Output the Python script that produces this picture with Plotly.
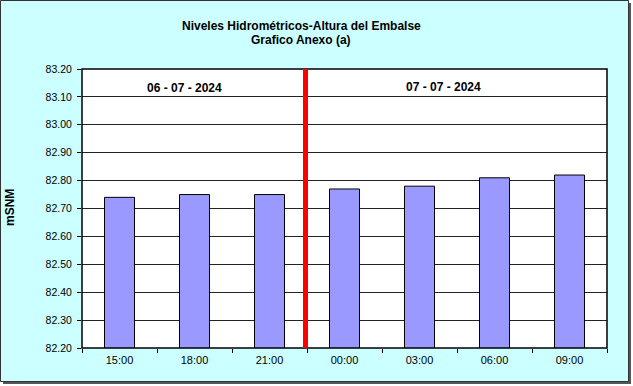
import plotly.graph_objects as go

categories = ["15:00", "18:00", "21:00", "00:00", "03:00", "06:00", "09:00"]
values = [82.74, 82.75, 82.75, 82.77, 82.78, 82.81, 82.82]
y_ticks = [82.2 + 0.1 * i for i in range(11)]
date_labels = ["06 - 07 - 2024", "07 - 07 - 2024"]

W, H = 633, 386
L, R, T, B = 82, 607, 69, 348

def px(x):
    return (x - L) / (R - L)

def py(y):
    return (B - y) / (B - T)

fig = go.Figure()
fig.add_trace(go.Bar(
    x=categories, y=values, width=0.4,
    marker=dict(color="#9999ff", line=dict(color="black", width=1)),
    hoverinfo="x+y",
))

shapes = [
    # shadow
    dict(type="rect", xref="paper", yref="paper", layer="below",
         x0=px(3), x1=px(631), y0=py(384), y1=py(3),
         fillcolor="#555555", line=dict(width=0)),
    # panel
    dict(type="rect", xref="paper", yref="paper", layer="below",
         x0=px(0.5), x1=px(628.5), y0=py(381.5), y1=py(0.5),
         fillcolor="#ccffff", line=dict(color="#333333", width=1)),
    # plot area
    dict(type="rect", xref="paper", yref="paper", layer="below",
         x0=0, x1=1, y0=0, y1=1, fillcolor="white", line=dict(width=0)),
    dict(type="rect", xref="paper", yref="paper", layer="above",
         x0=0, x1=1, y0=0, y1=1, line=dict(color="black", width=1.5)),
    # red divider
    dict(type="line", xref="x", yref="paper", layer="above",
         x0=2.48, x1=2.48, y0=0, y1=1, line=dict(color="#ff0000", width=5)),
]

annotations = [
    dict(text="<b>Niveles Hidrométricos-Altura del Embalse</b>", xref="paper", yref="paper",
         x=px(301), y=py(26), showarrow=False, xanchor="center", yanchor="middle",
         font=dict(size=12, color="black")),
    dict(text="<b>Grafico Anexo (a)</b>", xref="paper", yref="paper",
         x=px(301), y=py(40), showarrow=False, xanchor="center", yanchor="middle",
         font=dict(size=12, color="black")),
    dict(text="<b>" + date_labels[0] + "</b>", xref="paper", yref="paper",
         x=px(184), y=py(88), showarrow=False, xanchor="center", yanchor="middle",
         font=dict(size=12, color="black")),
    dict(text="<b>" + date_labels[1] + "</b>", xref="paper", yref="paper",
         x=px(443), y=py(87), showarrow=False, xanchor="center", yanchor="middle",
         font=dict(size=12, color="black")),
    dict(text="<b>mSNM</b>", xref="paper", yref="paper", textangle=-90,
         x=px(10), y=py(208), showarrow=False, xanchor="center", yanchor="middle",
         font=dict(size=12, color="black")),
]

fig.update_layout(
    width=W, height=H,
    margin=dict(l=L, r=W - R, t=T, b=H - B),
    paper_bgcolor="white", plot_bgcolor="rgba(0,0,0,0)",
    font=dict(family="Liberation Sans, Arial, sans-serif", size=11, color="black"),
    showlegend=False,
    shapes=shapes, annotations=annotations,
    xaxis=dict(type="category", tickson="boundaries", ticks="outside", ticklen=4,
               tickcolor="black", showgrid=False, showline=False, tickfont=dict(size=11),
               range=[-0.5, 6.5], ticklabelstandoff=4),
    yaxis=dict(range=[82.2, 83.2], tickvals=y_ticks,
               ticktext=["%.2f" % v for v in y_ticks], ticks="outside", ticklen=4,
               tickcolor="black", showgrid=True, gridcolor="#222222", gridwidth=1,
               showline=False, zeroline=False, tickfont=dict(size=10.5),
               ticklabelstandoff=3),
    bargap=0.6,
)

fig.write_html("out.html", config={"displayModeBar": False})

# remove the default page margin so the figure sits at the window origin
with open("out.html", "r", encoding="utf-8") as f:
    html = f.read()
html = html.replace("<head>", "<head><style>html,body{margin:0;padding:0;overflow:hidden;}</style>", 1)
with open("out.html", "w", encoding="utf-8") as f:
    f.write(html)
